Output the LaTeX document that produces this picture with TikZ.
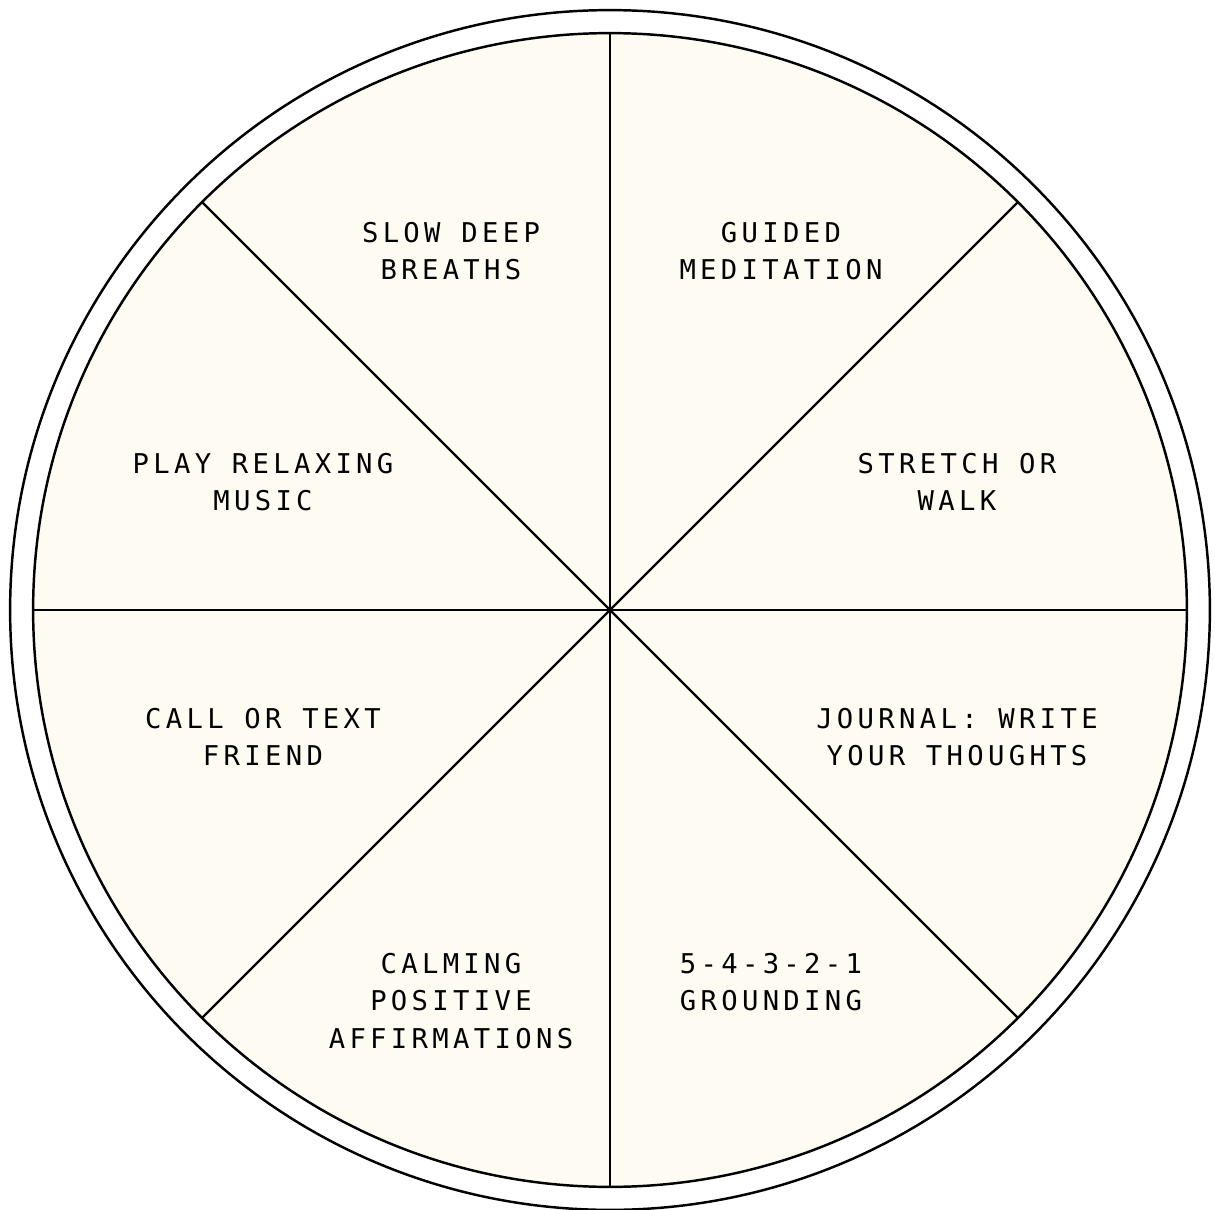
\documentclass[tikz,border=0pt]{standalone}
\usepackage{fontspec}
\newfontfamily\wheelfont[LetterSpace=15.9]{DejaVu Sans Mono}
\definecolor{cream}{HTML}{FEFBF2}

\begin{document}
\begin{tikzpicture}[x=0.02cm, y=-0.02cm, line width=1.4pt,
    wheel text/.style={align=center, inner sep=0pt,
        font=\wheelfont\fontsize{15.5}{21.5}\selectfont}]
    \useasboundingbox (0,0) rectangle (1215,1210);
    \coordinate (c) at (610,610);
    \draw (c) circle[radius=12cm];
    \draw[fill=cream] (c) circle[radius=11.54cm];
    \foreach \a in {0,45,...,315}
        \draw (c) -- ++(\a:11.54cm);
    % the eight sectors
    \node[wheel text] (breaths) at (451,251) {SLOW DEEP\\BREATHS};
    \node[wheel text] (meditation) at (781,251) {GUIDED\\MEDITATION};
    \node[wheel text] (music) at (263,482) {PLAY RELAXING\\MUSIC};
    \node[wheel text] (walk) at (957,482) {STRETCH OR\\WALK};
    \node[wheel text] (friend) at (263,737) {CALL OR TEXT\\FRIEND};
    \node[wheel text] (journal) at (957,737) {JOURNAL: WRITE\\YOUR THOUGHTS};
    \node[wheel text] (affirm) at (451,1001) {CALMING\\POSITIVE\\AFFIRMATIONS};
    \node[wheel text] (grounding) at (771,982) {5-4-3-2-1\\GROUNDING};
\end{tikzpicture}
\end{document}
